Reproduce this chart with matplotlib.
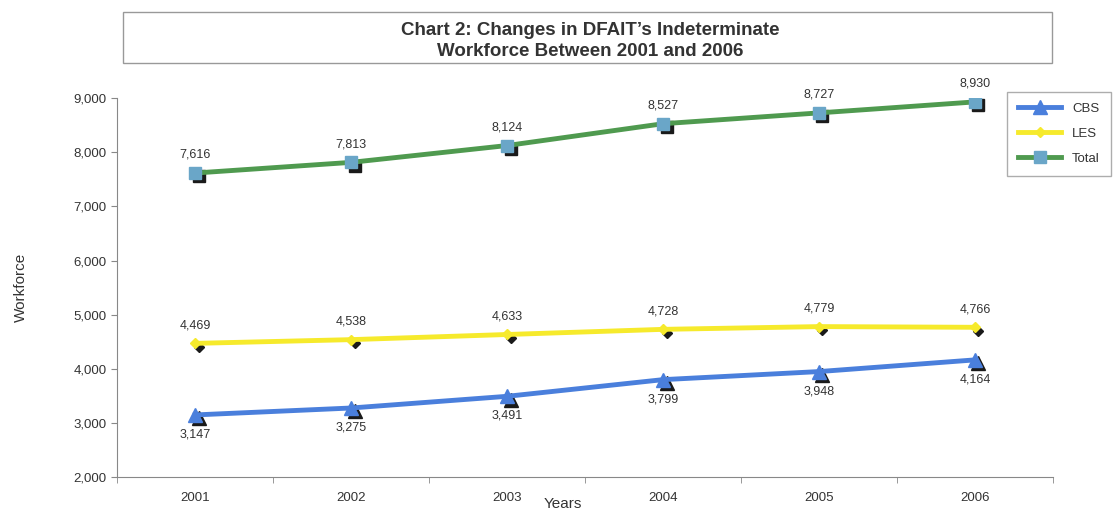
import matplotlib.pyplot as plt
import matplotlib.transforms as mtransforms
from matplotlib.patches import Rectangle

# Data
years = ["2001", "2002", "2003", "2004", "2005", "2006"]
cbs = [3147, 3275, 3491, 3799, 3948, 4164]
les = [4469, 4538, 4633, 4728, 4779, 4766]
total = [7616, 7813, 8124, 8527, 8727, 8930]

plt.rcParams['font.family'] = ['Liberation Sans', 'DejaVu Sans']
text_color = '#333333'

fig = plt.figure(figsize=(11.16, 5.11), dpi=100)
ax = fig.add_axes([0.105, 0.0665, 0.8385, 0.7415])

x = list(range(len(years)))
shadow = mtransforms.offset_copy(ax.transData, fig=fig, x=2.5, y=-2.5, units='points')

series = [
    ("CBS", cbs, '#4a7fdc', '^', '#4a7fdc', 10, -14),
    ("LES", les, '#f6ea2c', 'D', '#f6ea2c', 5, 13),
    ("Total", total, '#4f9a4f', 's', '#6aa6c8', 8, 13),
]

for name, vals, col, mk, mcol, ms, dy in series:
    # dark marker shadow
    ax.plot(x, vals, linestyle='none', marker=mk, markersize=ms,
            color='#1a1a1a', transform=shadow, zorder=2)
    ax.plot(x, vals, color=col, linewidth=3.5, marker=mk, markersize=ms,
            markerfacecolor=mcol, markeredgecolor=mcol, label=name, zorder=3)
    for xi, v in zip(x, vals):
        ax.annotate(f"{v:,}", (xi, v), xytext=(0, dy), textcoords='offset points',
                    ha='center', va='center', fontsize=9, color=text_color)

ax.set_xlim(-0.5, len(years) - 0.5)
ax.set_ylim(2000, 9000)
ax.set_yticks(range(2000, 9001, 1000))
ax.set_yticklabels([f"{v:,}" for v in range(2000, 9001, 1000)], fontsize=9.5, color=text_color)
ax.set_xticks(x)
ax.set_xticklabels(years, fontsize=9.5, color=text_color)
ax.set_xticks([i + 0.5 for i in range(-1, len(years))], minor=True)
ax.tick_params(axis='x', which='major', length=0, pad=11)
ax.tick_params(axis='x', which='minor', length=4, direction='out', color='#888888')
ax.tick_params(axis='y', length=4, direction='out', color='#888888')

for s in ['top', 'right']:
    ax.spines[s].set_visible(False)
for s in ['left', 'bottom']:
    ax.spines[s].set_color('#888888')

ax.set_xlabel("Years", fontsize=11, color=text_color)
ax.set_ylabel("Workforce", fontsize=11, color=text_color)
ax.xaxis.set_label_coords(0.476, -0.052)
ax.yaxis.set_label_coords(-0.095, 0.5)

# Title box
fig.patches.append(Rectangle((123 / 1116, 1 - 63 / 511), (1052 - 123) / 1116, 51 / 511,
                             transform=fig.transFigure, fill=False,
                             edgecolor='#999999', linewidth=1))
fig.text(590 / 1116, 1 - 41 / 511, "Chart 2: Changes in DFAIT\u2019s Indeterminate\nWorkforce Between 2001 and 2006",
         ha='center', va='center', fontsize=13.5, fontweight='bold', color=text_color,
         linespacing=1.35)

leg = fig.legend(loc='upper left', bbox_to_anchor=(1000 / 1116, 1 - 85 / 511),
                 fontsize=9.5, frameon=True, fancybox=False, edgecolor='#999999',
                 handlelength=3.3, labelspacing=0.95, borderpad=0.85)
for t in leg.get_texts():
    t.set_color(text_color)

fig.savefig("out.png", dpi=100)
